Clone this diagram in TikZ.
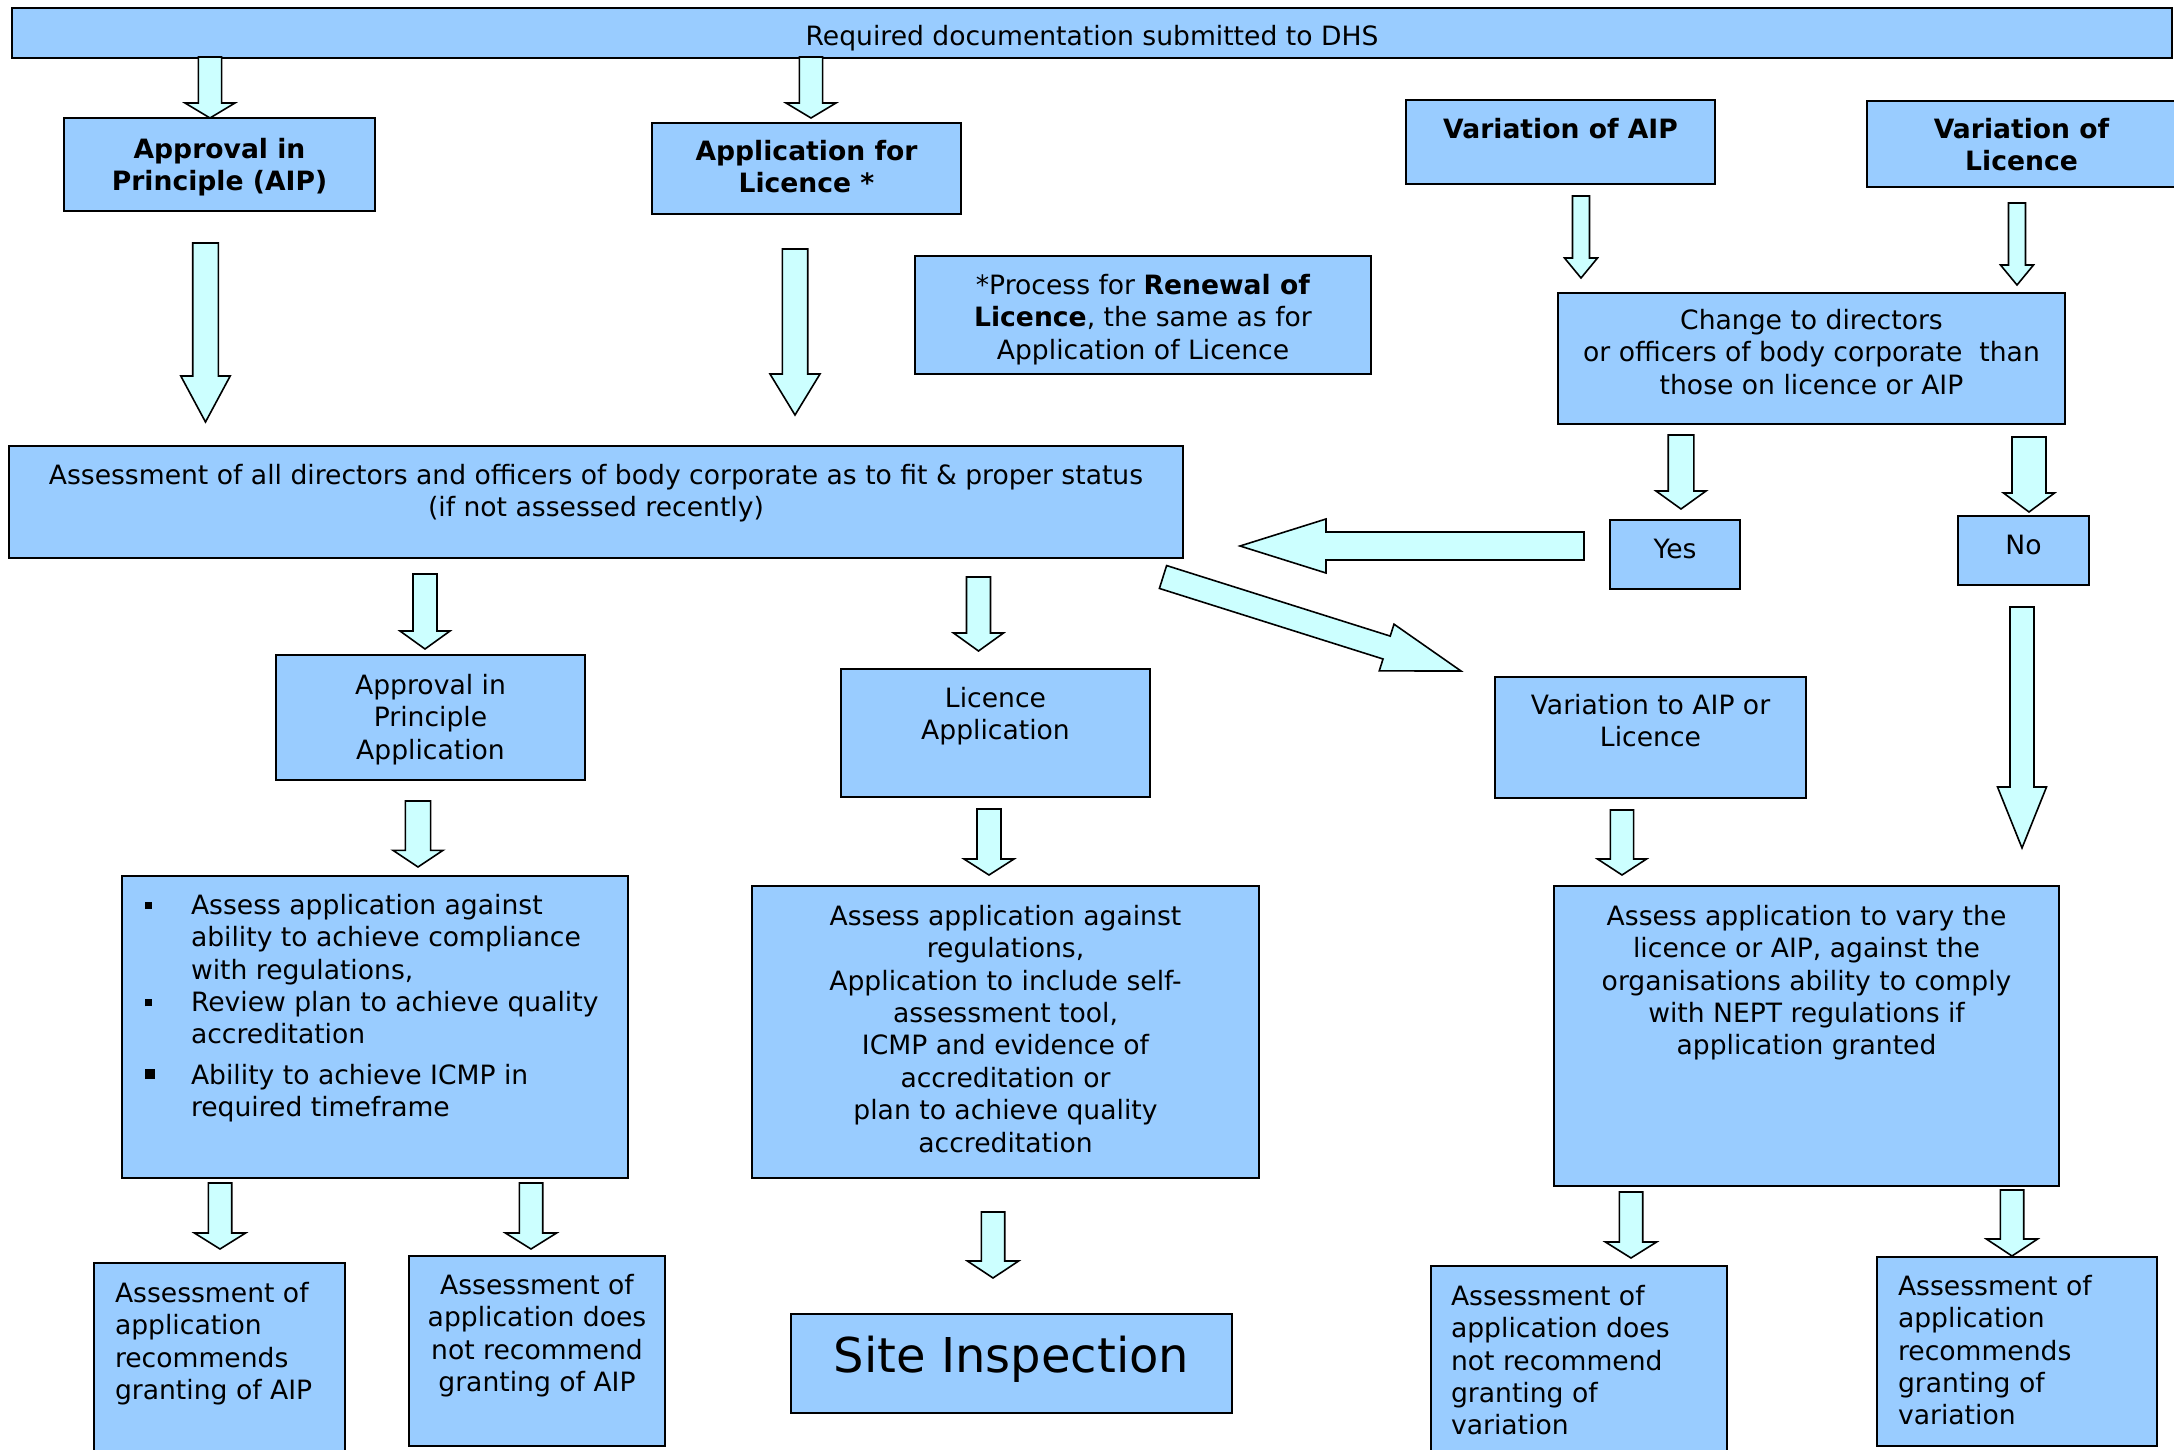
\documentclass[tikz,border=0pt]{standalone}
\usepackage{fontspec}
\setmainfont{DejaVu Sans}
\usepackage{tikz}
\usetikzlibrary{calc, positioning}

\definecolor{boxblue}{HTML}{99CCFF}
\definecolor{arrowcyan}{HTML}{CCFFFF}

\newcommand{\boxfont}{\fontsize{13.3pt}{16.2pt}\selectfont}
% text set from the top of a box: width, height, top gap, text
\newcommand{\inbox}[4]{\parbox[c][#2][t]{#1}{\centering\vspace*{#3}#4}}
\newcommand{\inboxl}[5]{\parbox[c][#2][t]{#1}{\raggedright\leftskip=#4\relax\vspace*{#3}#5}}
\newcommand{\sqbullet}[1]{\leavevmode\llap{\makebox[23.25pt][l]{\rule[2.5pt]{#1}{#1}}}}
% block arrow: tail, tip, half shaft, half head, head length
\newcommand{\bigarrow}[5]{%
  \coordinate (neck) at ($(#2)!#5!(#1)$);
  \draw[fatarrow] ($(#1)!#3!90:(#2)$) -- ($(neck)!#3!90:(#2)$) -- ($(neck)!#4!90:(#2)$) -- (#2)
    -- ($(neck)!#4!-90:(#2)$) -- ($(neck)!#3!-90:(#2)$) -- ($(#1)!#3!-90:(#2)$) -- cycle;
}

\begin{document}
\begin{tikzpicture}[x=0.5pt, y=-0.5pt,
    box/.style={draw, line width=1pt, fill=boxblue, inner sep=0pt, anchor=north west, font=\boxfont},
    fatarrow/.style={draw, line width=0.8pt, fill=arrowcyan, line join=miter}]
    \useasboundingbox (0,0) rectangle (2174,1450);

    % top row
    \node[box](docs) at (11,7) {\inbox{1080pt}{25pt}{8.5pt}{Required documentation submitted to DHS}};
    \node[box](aip) at (63,117) {\inbox{155.5pt}{46.5pt}{10pt}{\bfseries Approval in\\ Principle (AIP)}};
    \node[box](applic) at (651,122) {\inbox{154.5pt}{45.5pt}{8.5pt}{\bfseries Application for\\ Licence *}};
    \node[box](varaip) at (1405,99) {\inbox{154.5pt}{42pt}{9pt}{\bfseries Variation of AIP}};
    \node[box](varlic) at (1866,100) {\inbox{154.5pt}{43pt}{8.5pt}{\bfseries Variation of\\ Licence}};
    \node[box](renewal) at (914,255) {\inbox{228pt}{59pt}{9pt}{*Process for \textbf{Renewal of}\\ \textbf{Licence}, the same as for\\ Application of Licence}};
    \node[box](change) at (1557,292) {\inbox{253.5pt}{65.5pt}{8pt}{Change to directors\\ or officers of body corporate\ \ than\\ those on licence or AIP}};

    % fit and proper
    \node[box](assess) at (8,445) {\inbox{587pt}{56pt}{9pt}{Assessment of all directors and officers of body corporate as to fit \& proper status\\ (if not assessed recently)}};
    \node[box](yes) at (1609,519) {\inbox{65pt}{34.5pt}{9.5pt}{Yes}};
    \node[box](no) at (1957,515) {\inbox{65.5pt}{34.5pt}{9.5pt}{No}};

    % applications
    \node[box](aipapp) at (275,654) {\inbox{154.5pt}{62.5pt}{9.5pt}{Approval in\\ Principle\\ Application}};
    \node[box](licapp) at (840,668) {\inbox{154.5pt}{64pt}{9pt}{Licence\\ Application}};
    \node[box](varapp) at (1494,676) {\inbox{155.5pt}{60.5pt}{8.5pt}{Variation to AIP or\\ Licence}};

    \node[box](aipcheck) at (121,875) {\inboxl{253pt}{151pt}{9pt}{34.5pt}{%
        \sqbullet{3.5pt}Assess application against\\ ability to achieve compliance\\ with regulations,\par
        \sqbullet{3.5pt}Review plan to achieve quality\\ accreditation\par\vspace{4pt}
        \sqbullet{5pt}Ability to achieve ICMP in\\ required timeframe}};
    \node[box](liccheck) at (751,885) {\inbox{253.5pt}{146pt}{9.5pt}{Assess application against\\ regulations,\\ Application to include self-\\ assessment tool,\\ ICMP and evidence of\\ accreditation or\\ plan to achieve quality\\ accreditation}};
    \node[box](varcheck) at (1553,885) {\inbox{252.5pt}{150pt}{9.5pt}{Assess application to vary the\\ licence or AIP, against the\\ organisations ability to comply\\ with NEPT regulations if\\ application granted}};

    % outcomes
    \node[box](aipyes) at (93,1262) {\inboxl{125.5pt}{100pt}{9.5pt}{10.5pt}{Assessment of\\ application\\ recommends\\ granting of AIP}};
    \node[box](aipno) at (408,1255) {\inbox{128pt}{95pt}{9pt}{Assessment of\\ application does\\ not recommend\\ granting of AIP}};
    \node[box](site) at (790,1313) {\inbox{220.5pt}{49.5pt}{11.25pt}{\fontsize{24pt}{28pt}\selectfont Site Inspection}};
    \node[box](varno) at (1430,1265) {\inboxl{148pt}{100pt}{9.5pt}{10pt}{Assessment of\\ application does\\ not recommend\\ granting of\\ variation}};
    \node[box](varyes) at (1876,1256) {\inboxl{140pt}{94.5pt}{9pt}{10.5pt}{Assessment of\\ application\\ recommends\\ granting of\\ variation}};

    % arrow ends
    \coordinate (docs-aip) at (210,57);      \coordinate (aip-in) at (210,118);
    \coordinate (docs-lic) at (811,57);      \coordinate (applic-in) at (811,118);
    \coordinate (varaip-out) at (1581,196);  \coordinate (change-in1) at (1581,278);
    \coordinate (varlic-out) at (2017,203);  \coordinate (change-in2) at (2017,285);
    \coordinate (aip-out) at (205.5,243);    \coordinate (assess-in1) at (205.5,422);
    \coordinate (applic-out) at (795,249);   \coordinate (assess-in2) at (795,415);
    \coordinate (change-yes) at (1681,435);  \coordinate (yes-in) at (1681,509);
    \coordinate (change-no) at (2029,437);   \coordinate (no-in) at (2029,512);
    \coordinate (yes-out) at (1584,546);     \coordinate (assess-in3) at (1240,546);
    \coordinate (assess-var) at (1163,577);  \coordinate (varapp-in) at (1461,671);
    \coordinate (assess-aip) at (425,574);   \coordinate (aipapp-in) at (425,649);
    \coordinate (assess-lic) at (978.5,577); \coordinate (licapp-in) at (978.5,651);
    \coordinate (aipapp-out) at (418,801);   \coordinate (aipcheck-in) at (418,867);
    \coordinate (licapp-out) at (989,809);   \coordinate (liccheck-in) at (989,875);
    \coordinate (varapp-out) at (1622,810);  \coordinate (varcheck-in1) at (1622,875);
    \coordinate (no-out) at (2022,607);      \coordinate (varcheck-in2) at (2022,848);
    \coordinate (aipcheck-yes) at (220,1183); \coordinate (aipyes-in) at (220,1249);
    \coordinate (aipcheck-no) at (531,1183); \coordinate (aipno-in) at (531,1249);
    \coordinate (liccheck-out) at (993,1212); \coordinate (site-in) at (993,1278);
    \coordinate (varcheck-no) at (1631,1192); \coordinate (varno-in) at (1631,1258);
    \coordinate (varcheck-yes) at (2012,1190); \coordinate (varyes-in) at (2012,1256);

    % block arrows
    \bigarrow{docs-aip}{aip-in}{5.8pt}{12.5pt}{7.5pt}
    \bigarrow{docs-lic}{applic-in}{5.8pt}{12.5pt}{7.5pt}
    \bigarrow{varaip-out}{change-in1}{4.25pt}{8.25pt}{10pt}
    \bigarrow{varlic-out}{change-in2}{4.25pt}{8.25pt}{10pt}
    \bigarrow{aip-out}{assess-in1}{6.4pt}{12.35pt}{23pt}
    \bigarrow{applic-out}{assess-in2}{6.35pt}{12.5pt}{20.5pt}
    \bigarrow{change-yes}{yes-in}{6.4pt}{12.5pt}{9pt}
    \bigarrow{change-no}{no-in}{8.5pt}{12.75pt}{9.5pt}
    \bigarrow{yes-out}{assess-in3}{7pt}{13.5pt}{43pt}
    \bigarrow{assess-var}{varapp-in}{6pt}{12.25pt}{39pt}
    \bigarrow{assess-aip}{aipapp-in}{6pt}{12.5pt}{9pt}
    \bigarrow{assess-lic}{licapp-in}{6pt}{12.5pt}{9pt}
    \bigarrow{aipapp-out}{aipcheck-in}{6.3pt}{12.5pt}{8.35pt}
    \bigarrow{licapp-out}{liccheck-in}{6pt}{12.5pt}{8pt}
    \bigarrow{varapp-out}{varcheck-in1}{5.8pt}{12.25pt}{8pt}
    \bigarrow{no-out}{varcheck-in2}{6pt}{12.25pt}{30.5pt}
    \bigarrow{aipcheck-yes}{aipyes-in}{5.85pt}{12.8pt}{8pt}
    \bigarrow{aipcheck-no}{aipno-in}{5.85pt}{12.8pt}{8pt}
    \bigarrow{liccheck-out}{site-in}{5.85pt}{12.8pt}{8.5pt}
    \bigarrow{varcheck-no}{varno-in}{5.85pt}{12.8pt}{8pt}
    \bigarrow{varcheck-yes}{varyes-in}{5.85pt}{12.8pt}{8.5pt}
\end{tikzpicture}
\end{document}
